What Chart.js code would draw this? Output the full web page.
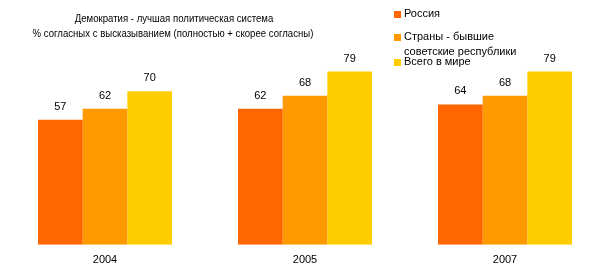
<!DOCTYPE html>
<html>
<head>
<meta charset="utf-8">
<script src="https://cdn.jsdelivr.net/npm/chart.js@4"></script>
<style>
  html, body { margin: 0; padding: 0; background: #fff; }
  #wrap { width: 612px; height: 276px; position: relative; }
</style>
</head>
<body>
<div id="wrap"><canvas id="demChart" width="612" height="276"></canvas></div>
<script>
const years = ['2004', '2005', '2007'];
const russia = [57, 62, 64];
const exUssr = [62, 68, 68];
const world = [70, 79, 79];
const seriesNames = ['Россия', 'Страны - бывшие советские республики', 'Всего в мире'];
const titleLines = ['Демократия - лучшая политическая система', '% согласных с высказыванием (полностью + скорее согласны)'];

const colors = ['#FF6600', '#FF9900', '#FFCC00'];
const family = '"Liberation Sans", Arial, sans-serif';

// values above bars, title and legend drawn by hand
const decor = {
    id: 'decor',
    afterDatasetsDraw(chart) {
        const ctx = chart.ctx;
        ctx.save();
        ctx.font = '11px ' + family;
        ctx.fillStyle = '#000';
        ctx.textAlign = 'center';
        ctx.textBaseline = 'middle';
        chart.data.datasets.forEach((ds, i) => {
            chart.getDatasetMeta(i).data.forEach((bar, j) => {
                ctx.fillText(ds.data[j], bar.x, bar.y - 13);
            });
        });

        // title font in the original is a bit condensed
        const sx = 0.914;
        ctx.save();
        ctx.scale(sx, 1);
        ctx.font = '10.5px ' + family;
        ctx.fillText(titleLines[0], 174 / sx, 19);
        ctx.fillText(titleLines[1], 173 / sx, 34.5);
        ctx.restore();

        ctx.font = '11px ' + family;
        ctx.textAlign = 'left';
        const legendRows = [
            { y: 14, lines: [seriesNames[0]] },
            { y: 37, lines: ['Страны - бывшие', 'советские республики'] },
            { y: 62, lines: [seriesNames[2]] }
        ];
        legendRows.forEach((row, i) => {
            ctx.fillStyle = colors[i];
            ctx.fillRect(394, row.y - 3, 7, 7);
            ctx.fillStyle = '#000';
            row.lines.forEach((t, k) => ctx.fillText(t, 404, row.y + k * 15));
        });
        ctx.restore();
    }
};

new Chart(document.getElementById('demChart').getContext('2d'), {
    type: 'bar',
    data: {
        labels: years,
        datasets: [
            { label: seriesNames[0], data: russia, backgroundColor: colors[0] },
            { label: seriesNames[1], data: exUssr, backgroundColor: colors[1] },
            { label: seriesNames[2], data: world, backgroundColor: colors[2] }
        ]
    },
    options: {
        responsive: false,
        animation: false,
        categoryPercentage: 0.67,
        barPercentage: 1,
        layout: { padding: { left: 5, right: 7, top: 25.5, bottom: 0 } },
        plugins: {
            legend: { display: false },
            title: { display: false },
            tooltip: { enabled: false }
        },
        scales: {
            x: {
                grid: { display: false, drawTicks: false },
                border: { display: false },
                ticks: { color: '#000', padding: 9, font: { family: family, size: 11 } }
            },
            y: {
                display: false,
                min: 0,
                max: 100
            }
        }
    },
    plugins: [decor]
});
</script>
</body>
</html>
